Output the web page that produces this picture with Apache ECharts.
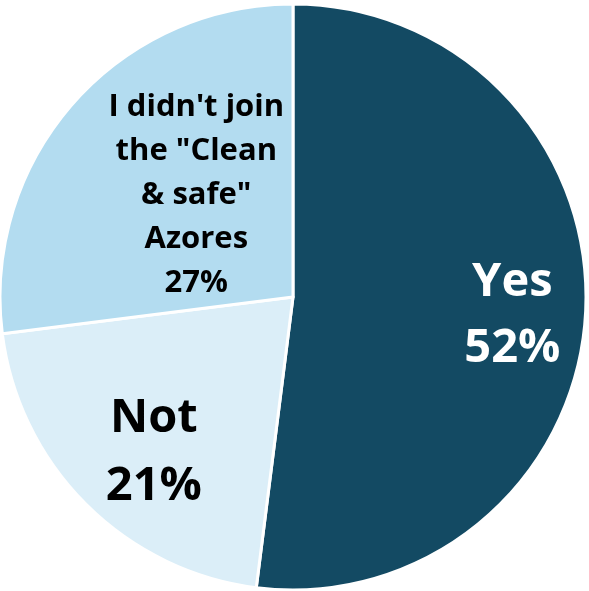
<!DOCTYPE html>
<html>
<head>
<meta charset="utf-8">
<script src="https://cdn.jsdelivr.net/npm/echarts@6/dist/echarts.min.js"></script>
<style>html,body{margin:0;padding:0;background:#fff;}#chart{width:589px;height:591px;}</style>
</head>
<body>
<div id="chart"></div>
<script>
const categories = ['Yes', 'Not', 'I didn\'t join\nthe "Clean\n& safe"\nAzores'];
const values = [52, 21, 27];
const colors = ['#134a63', '#dbeef8', '#b3dcf0'];
const textColors = ['#ffffff', '#000000', '#000000'];
const fontSizes = [47, 47, 31];
const lineHeights = [66, 68, 44];
const labelRadiusFactor = [0.75, 0.71, 0.49];
const labelNudge = [[0, 5], [8, 9], [11, -7]];

const cx = 293, cy = 297, R = 293;
const total = values.reduce((a, b) => a + b, 0);
const midAngles = [];
let acc = 0;
values.forEach(v => { midAngles.push((acc + v / 2) / total * Math.PI * 2); acc += v; });

const chart = echarts.init(document.getElementById('chart'));
chart.setOption({
  animation: false,
  series: [{
    type: 'pie',
    center: [cx, cy],
    radius: [0, R],
    startAngle: 90,
    clockwise: true,
    itemStyle: { borderColor: '#ffffff', borderWidth: 3 },
    label: {
      show: true,
      position: 'inside',
      formatter: '{b}\n{c}%',
      fontFamily: 'Open Sans',
      fontWeight: 'bold'
    },
    labelLine: { show: false },
    labelLayout: function (p) {
      const i = p.dataIndex;
      const a = midAngles[i];
      const r = R * labelRadiusFactor[i];
      return { x: cx + r * Math.sin(a) + labelNudge[i][0], y: cy - r * Math.cos(a) + labelNudge[i][1], align: 'center', verticalAlign: 'middle' };
    },
    data: categories.map((c, i) => ({
      name: c,
      value: values[i],
      itemStyle: { color: colors[i] },
      label: { color: textColors[i], fontSize: fontSizes[i], lineHeight: lineHeights[i] }
    }))
  }]
});
</script>
</body>
</html>
